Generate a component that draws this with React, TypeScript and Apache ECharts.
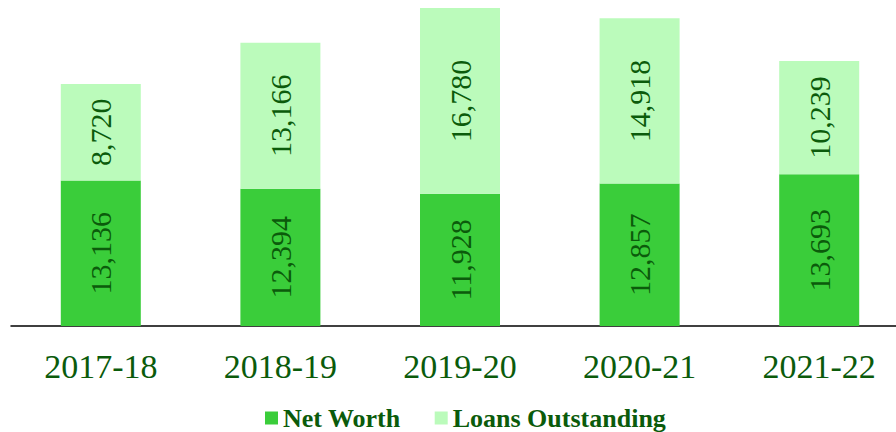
import React, { useEffect, useRef } from "react";
import * as echarts from "echarts";

const categories = ["2017-18", "2018-19", "2019-20", "2020-21", "2021-22"];
const netWorth = [13136, 12394, 11928, 12857, 13693];
const loansOutstanding = [8720, 13166, 16780, 14918, 10239];

const TEXT = "#0B5B0B";
const FONT = "Liberation Serif";

export default function App() {
  const ref = useRef<HTMLDivElement>(null);
  useEffect(() => {
    if (!ref.current) return;
    const chart = echarts.init(ref.current, null, { renderer: "svg" });
    const maxTotal = Math.max(...netWorth.map((v, i) => v + loansOutstanding[i]));
    const makeLabel = () => ({
      show: true,
      position: "inside",
      rotate: 90,
      color: TEXT,
      fontFamily: FONT,
      fontSize: 30,
      formatter: (p: any) => Number(p.value).toLocaleString("en-US"),
    });
    chart.setOption({
      animation: false,
      textStyle: { fontFamily: FONT },
      grid: { left: 11, right: 0, top: 8, bottom: 106 },
      legend: {
        left: 260,
        top: 400,
        itemWidth: 13,
        itemHeight: 13,
        itemGap: 34,
        icon: "rect",
        textStyle: { color: TEXT, fontFamily: FONT, fontSize: 26, fontWeight: "bold" },
        data: ["Net Worth", "Loans Outstanding"],
      },
      xAxis: {
        type: "category",
        data: categories,
        axisLine: { lineStyle: { color: "#000", width: 1.5 } },
        axisTick: { show: false },
        axisLabel: { color: TEXT, fontFamily: FONT, fontSize: 34, margin: 23 },
      },
      yAxis: {
        type: "value",
        min: 0,
        max: maxTotal,
        show: false,
        splitLine: { show: false },
      },
      series: [
        {
          name: "Net Worth",
          type: "bar",
          stack: "total",
          barWidth: 80,
          data: netWorth,
          itemStyle: { color: "#3ACD3A" },
          label: makeLabel(),
        },
        {
          name: "Loans Outstanding",
          type: "bar",
          stack: "total",
          barWidth: 80,
          data: loansOutstanding,
          itemStyle: { color: "#BBFBBB" },
          label: makeLabel(),
        },
      ],
    });
    return () => chart.dispose();
  }, []);
  return (
    <div
      ref={ref}
      style={{ position: "fixed", left: 0, top: 0, width: 909, height: 432, background: "#fff" }}
    />
  );
}
